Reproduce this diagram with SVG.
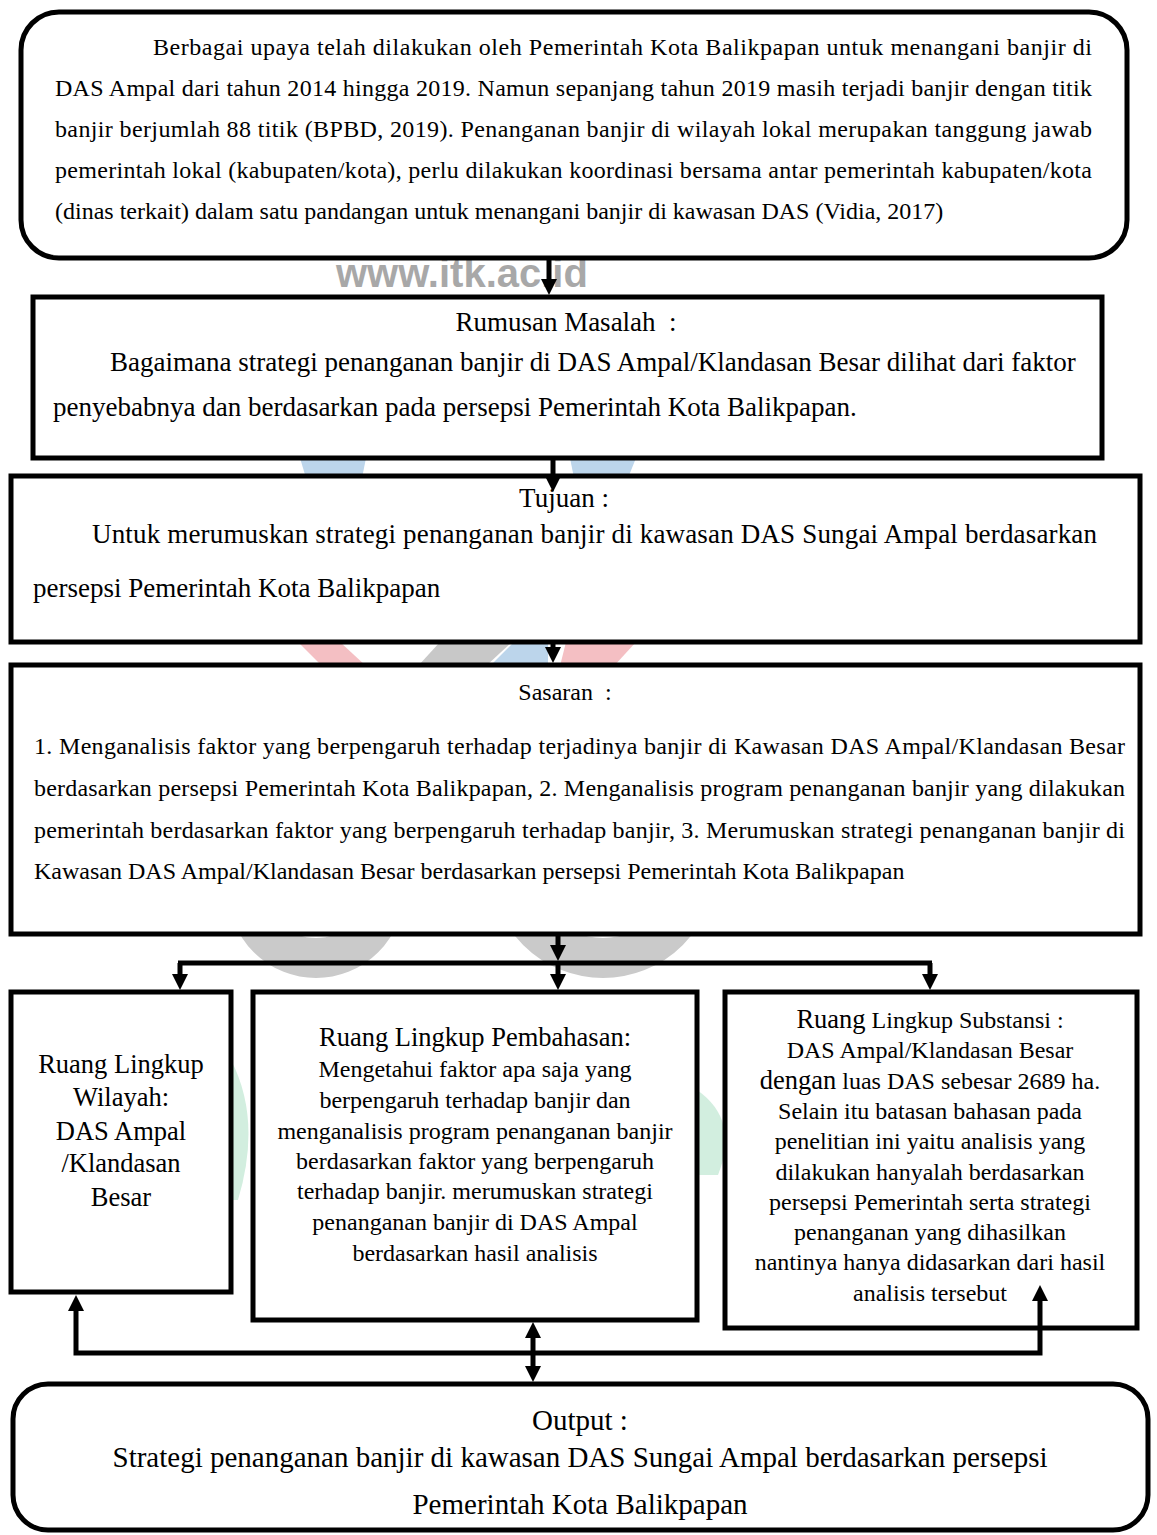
<svg xmlns="http://www.w3.org/2000/svg" width="1157" height="1535" viewBox="0 0 1157 1535">
<style>
.box{fill:#fff;stroke:#000;stroke-width:5}
.t{font-family:"Liberation Serif","Times New Roman",serif;fill:#000}
.s24{font-size:24px}
.s27{font-size:27px}
.s26{font-size:26.5px}
.s29{font-size:29px}
.c{text-anchor:middle}
.ln{fill:none;stroke:#000;stroke-width:5}
.wm{font-family:"Liberation Sans",Arial,sans-serif;font-weight:bold;font-size:40px;fill:#a8a8a8}
.lb{fill:#bcd5eb}
.lp{fill:#f4bfc3}
.lg{fill:#c8c8c8}
.lgr{fill:none;stroke:#cacaca;stroke-width:40}
.lgn{fill:#d2eedf}
</style>
<defs>
<marker id="ah" viewBox="0 0 16 16" markerWidth="16" markerHeight="16" refX="2" refY="8" orient="auto-start-reverse" markerUnits="userSpaceOnUse">
<path d="M0,0 L16,8 L0,16 z" fill="#000"/>
</marker>
</defs>
<rect width="1157" height="1535" fill="#fff"/>

<g id="watermark">
<text class="wm" x="336" y="287">www.itk.ac.id</text>
<circle class="lgr" cx="316" cy="890" r="68"/>
<circle class="lgr" cx="603" cy="865" r="93"/>
<path class="lb" d="M300,458 L366,458 L362,478 L306,478 z"/>
<path class="lb" d="M570,458 L636,458 L628,478 L574,478 z"/>
<path class="lp" d="M298,642 L340,642 L366,666 L322,666 z"/>
<path class="lg" d="M440,642 L512,642 L486,666 L418,666 z"/>
<path class="lb" d="M514,642 L548,642 L548,666 L490,666 z"/>
<path class="lp" d="M566,642 L636,642 L614,666 L560,666 z"/>
<path class="lgn" d="M231,1060 Q262,1120 238,1200 L231,1200 z"/>
<path class="lgn" d="M697,1090 Q740,1120 718,1175 L697,1175 z"/>
</g>

<g id="node-latar">
<rect class="box" x="21" y="12" width="1106" height="246" rx="38"/>
<text class="t s24" x="153" y="55" textLength="939" lengthAdjust="spacing">Berbagai upaya telah dilakukan oleh Pemerintah Kota Balikpapan untuk menangani banjir di</text>
<text class="t s24" x="55" y="96" textLength="1037" lengthAdjust="spacing">DAS Ampal dari tahun 2014 hingga 2019. Namun sepanjang tahun 2019 masih terjadi banjir dengan titik</text>
<text class="t s24" x="55" y="137" textLength="1037" lengthAdjust="spacing">banjir berjumlah 88 titik (BPBD, 2019). Penanganan banjir di wilayah lokal merupakan tanggung jawab</text>
<text class="t s24" x="55" y="178" textLength="1037" lengthAdjust="spacing">pemerintah lokal (kabupaten/kota), perlu dilakukan koordinasi bersama antar pemerintah kabupaten/kota</text>
<text class="t s24" x="55" y="219">(dinas terkait) dalam satu pandangan untuk menangani banjir di kawasan DAS (Vidia, 2017)</text>
</g>

<g id="node-rumusan">
<rect class="box" x="33" y="297" width="1069" height="161"/>
<text class="t s27 c" x="566" y="331" xml:space="preserve">Rumusan Masalah  :</text>
<text class="t s27" x="110" y="371">Bagaimana strategi penanganan banjir di DAS Ampal/Klandasan Besar dilihat dari faktor</text>
<text class="t s27" x="53" y="416">penyebabnya dan berdasarkan pada persepsi Pemerintah Kota Balikpapan.</text>
</g>

<g id="node-tujuan">
<rect class="box" x="11" y="476" width="1129" height="166"/>
<text class="t s27 c" x="564" y="507">Tujuan :</text>
<text class="t s27" x="92" y="543" textLength="1005" lengthAdjust="spacing">Untuk merumuskan strategi penanganan banjir di kawasan DAS Sungai Ampal berdasarkan</text>
<text class="t s27" x="33" y="597">persepsi Pemerintah Kota Balikpapan</text>
</g>

<g id="node-sasaran">
<rect class="box" x="11" y="665" width="1129" height="269"/>
<text class="t s24 c" x="565" y="700" xml:space="preserve">Sasaran  :</text>
<text class="t s24" x="34" y="754" textLength="1091" lengthAdjust="spacing">1. Menganalisis faktor yang berpengaruh terhadap terjadinya banjir di Kawasan DAS Ampal/Klandasan Besar</text>
<text class="t s24" x="34" y="796" textLength="1091" lengthAdjust="spacing">berdasarkan persepsi Pemerintah Kota Balikpapan, 2. Menganalisis program penanganan banjir yang dilakukan</text>
<text class="t s24" x="34" y="838" textLength="1091" lengthAdjust="spacing">pemerintah berdasarkan faktor yang berpengaruh terhadap banjir, 3. Merumuskan strategi penanganan banjir di</text>
<text class="t s24" x="34" y="879">Kawasan DAS Ampal/Klandasan Besar berdasarkan persepsi Pemerintah Kota Balikpapan</text>
</g>

<g id="node-wilayah">
<rect class="box" x="11" y="992" width="220" height="300"/>
<text class="t s26 c" x="121" y="1073">Ruang Lingkup</text>
<text class="t s26 c" x="121" y="1106">Wilayah:</text>
<text class="t s26 c" x="121" y="1140">DAS Ampal</text>
<text class="t s26 c" x="121" y="1172">/Klandasan</text>
<text class="t s26 c" x="121" y="1206">Besar</text>
</g>

<g id="node-pembahasan">
<rect class="box" x="253" y="992" width="444" height="328"/>
<text class="t s26 c" x="475" y="1046">Ruang Lingkup Pembahasan:</text>
<text class="t s24 c" x="475" y="1077">Mengetahui faktor apa saja yang</text>
<text class="t s24 c" x="475" y="1108">berpengaruh terhadap banjir dan</text>
<text class="t s24 c" x="475" y="1139">menganalisis program penanganan banjir</text>
<text class="t s24 c" x="475" y="1169">berdasarkan faktor yang berpengaruh</text>
<text class="t s24 c" x="475" y="1199">terhadap banjir. merumuskan strategi</text>
<text class="t s24 c" x="475" y="1230">penanganan banjir di DAS Ampal</text>
<text class="t s24 c" x="475" y="1261">berdasarkan hasil analisis</text>
</g>

<g id="node-substansi">
<rect class="box" x="725" y="992" width="412" height="336"/>
<text class="t s24 c" x="930" y="1028"><tspan class="s26">Ruang</tspan> Lingkup Substansi :</text>
<text class="t s24 c" x="930" y="1058">DAS Ampal/Klandasan Besar</text>
<text class="t s24 c" x="930" y="1089"><tspan class="s26">dengan</tspan> luas DAS sebesar 2689 ha.</text>
<text class="t s24 c" x="930" y="1119">Selain itu batasan bahasan pada</text>
<text class="t s24 c" x="930" y="1149">penelitian ini yaitu analisis yang</text>
<text class="t s24 c" x="930" y="1180">dilakukan hanyalah berdasarkan</text>
<text class="t s24 c" x="930" y="1210">persepsi Pemerintah serta strategi</text>
<text class="t s24 c" x="930" y="1240">penanganan yang dihasilkan</text>
<text class="t s24 c" x="930" y="1270">nantinya hanya didasarkan dari hasil</text>
<text class="t s24 c" x="930" y="1301">analisis tersebut</text>
</g>

<g id="node-output">
<rect class="box" x="13" y="1384" width="1135" height="146" rx="35"/>
<text class="t s29 c" x="580" y="1430">Output :</text>
<text class="t s29 c" x="580" y="1467">Strategi penanganan banjir di kawasan DAS Sungai Ampal berdasarkan persepsi</text>
<text class="t s29 c" x="580" y="1514">Pemerintah Kota Balikpapan</text>
</g>

<g id="connectors">
<path class="ln" d="M549,260 V281" marker-end="url(#ah)"/>
<path class="ln" d="M553,460 V478" marker-end="url(#ah)"/>
<path class="ln" d="M553,644 V649" marker-end="url(#ah)"/>
<path class="ln" d="M558,936 V947" marker-end="url(#ah)"/>
<path class="ln" d="M178,963 H932"/>
<path class="ln" d="M180,963 V976" marker-end="url(#ah)"/>
<path class="ln" d="M558,963 V976" marker-end="url(#ah)"/>
<path class="ln" d="M930,963 V976" marker-end="url(#ah)"/>
<path class="ln" d="M76,1309 V1353 H1040 V1299" marker-start="url(#ah)" marker-end="url(#ah)"/>
<path class="ln" d="M533,1336 V1368" marker-start="url(#ah)" marker-end="url(#ah)"/>
</g>
</svg>
